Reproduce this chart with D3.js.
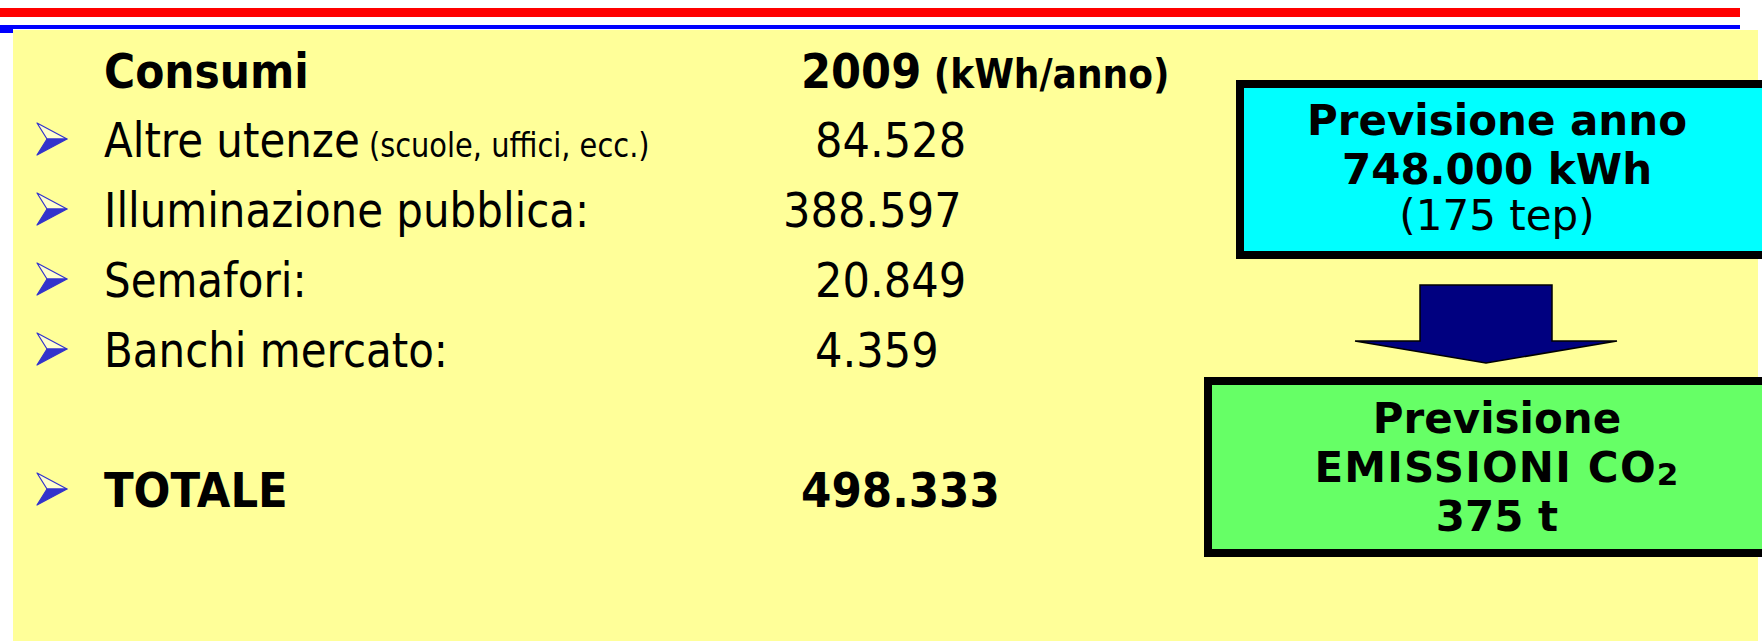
<!DOCTYPE html>
<html>
<head>
<meta charset="utf-8">
<script src="https://cdn.jsdelivr.net/npm/d3@7"></script>
<style>
  html, body { margin: 0; padding: 0; background: #fff; }
  svg { display: block; }
  text { font-family: "DejaVu Sans", Verdana, sans-serif; fill: #000; }
</style>
</head>
<body>
<svg id="chart" width="1762" height="641"></svg>
<script>
// data
const labels = ['Altre utenze', 'Illuminazione pubblica:', 'Semafori:', 'Banchi mercato:'];
const notes = ['(scuole, uffici, ecc.)', '', '', ''];
const consumi2009 = [84528, 388597, 20849, 4359];
const totale = 498333;
const anno = 2009;
const previsioneKWh = 748000;
const previsioneTep = 175;
const emissioniCO2 = 375;

const W = 1762, H = 641;
const svg = d3.select('#chart');
const it = d3.formatLocale({decimal: ',', thousands: '.', grouping: [3], currency: ['€', '']});
const fmt = it.format(',');

const SX = 0.875; // text is a squeezed sans in the original
const labelX = 104;
const numX = 783;
const indent = 32;

// rows: 0..3 items, 5 is the total
const y = d3.scaleLinear().domain([0, 1]).range([157, 227]);

// header bars
svg.append('rect').attr('x', 0).attr('y', 8).attr('width', 1740).attr('height', 9).attr('fill', '#ff0000');
svg.append('rect').attr('x', 0).attr('y', 25).attr('width', 1740).attr('height', 4).attr('fill', '#0000ff');
svg.append('rect').attr('x', 0).attr('y', 29).attr('width', 13).attr('height', 4).attr('fill', '#0000ff');

// yellow panel
svg.append('rect').attr('x', 13).attr('y', 30).attr('width', 1745).attr('height', H - 30).attr('fill', '#ffff99');

function squeezed(x, yy, sx) {
  return svg.append('text')
      .attr('transform', `translate(${x},${yy}) scale(${sx || SX},1)`)
      .attr('xml:space', 'preserve');
}

function bullet(cy) {
  const g = svg.append('g').attr('transform', `translate(37,${cy - 16})`);
  g.append('path')
      .attr('d', 'M0,0 L30,16 L10,16 Z')
      .attr('fill', '#ffffcc')
      .attr('stroke', '#3333cc')
      .attr('stroke-width', 1.2)
      .attr('stroke-linejoin', 'round');
  g.append('path')
      .attr('d', 'M10,16 L30,16 L0,32 Z')
      .attr('fill', '#3333cc')
      .attr('stroke', '#3333cc')
      .attr('stroke-width', 1.2)
      .attr('stroke-linejoin', 'round');
}

// column headings
squeezed(labelX, 88, 0.885).style('font-size', '48px').style('font-weight', 'bold').text('Consumi');
const head = squeezed(801, 88, 0.9).style('font-weight', 'bold');
head.append('tspan').style('font-size', '48px').text(String(anno));
head.append('tspan').style('font-size', '40px').text(' (kWh/anno)');

// items
labels.forEach((lab, i) => {
  const by = y(i);
  bullet(by - 18);
  const t = squeezed(labelX, by).style('font-size', '48px');
  t.append('tspan').text(lab);
  if (notes[i]) t.append('tspan').style('font-size', '33px').text(' ' + notes[i]);
  const v = consumi2009[i];
  squeezed(numX + (v >= 100000 ? 0 : indent), by, 0.9).style('font-size', '48px').text(fmt(v));
});

// total
bullet(y(5) - 18);
squeezed(labelX, y(5), 0.905).style('font-size', '48px').style('font-weight', 'bold').text('TOTALE');
squeezed(801, y(5), 0.91).style('font-size', '48px').style('font-weight', 'bold').text(fmt(totale));

// right side boxes
const cx = 1497;
svg.append('rect').attr('x', 1240).attr('y', 84).attr('width', 600).attr('height', 171)
    .attr('fill', '#00ffff').attr('stroke', '#000').attr('stroke-width', 8);
svg.append('text').attr('x', cx).attr('y', 135).attr('text-anchor', 'middle')
    .style('font-size', '42px').style('font-weight', 'bold').text('Previsione anno');
svg.append('text').attr('x', cx).attr('y', 184).attr('text-anchor', 'middle')
    .style('font-size', '42px').style('font-weight', 'bold').text(fmt(previsioneKWh) + ' kWh');
svg.append('text').attr('x', cx).attr('y', 230).attr('text-anchor', 'middle')
    .style('font-size', '42px').text(`(${previsioneTep} tep)`);

// arrow
const arrow = [[1420, 285], [1552, 285], [1552, 341], [1617, 341], [1486, 363], [1355, 341], [1420, 341]];
svg.append('path')
    .attr('d', d3.line()(arrow) + 'Z')
    .attr('fill', '#000080')
    .attr('stroke', '#000')
    .attr('stroke-width', 1.5)
    .attr('stroke-linejoin', 'miter');

svg.append('rect').attr('x', 1208).attr('y', 381).attr('width', 640).attr('height', 172)
    .attr('fill', '#66ff66').attr('stroke', '#000').attr('stroke-width', 8);
svg.append('text').attr('x', cx).attr('y', 433).attr('text-anchor', 'middle')
    .style('font-size', '42px').style('font-weight', 'bold').text('Previsione');
const co2 = svg.append('text').attr('x', cx).attr('y', 482).attr('text-anchor', 'middle')
    .style('font-size', '42px').style('font-weight', 'bold').style('letter-spacing', '1.2px');
co2.append('tspan').text('EMISSIONI CO');
co2.append('tspan').style('font-size', '31px').attr('dy', 3).text('2');
svg.append('text').attr('x', cx).attr('y', 531).attr('text-anchor', 'middle')
    .style('font-size', '42px').style('font-weight', 'bold').text(`${emissioniCO2} t`);
</script>
</body>
</html>
